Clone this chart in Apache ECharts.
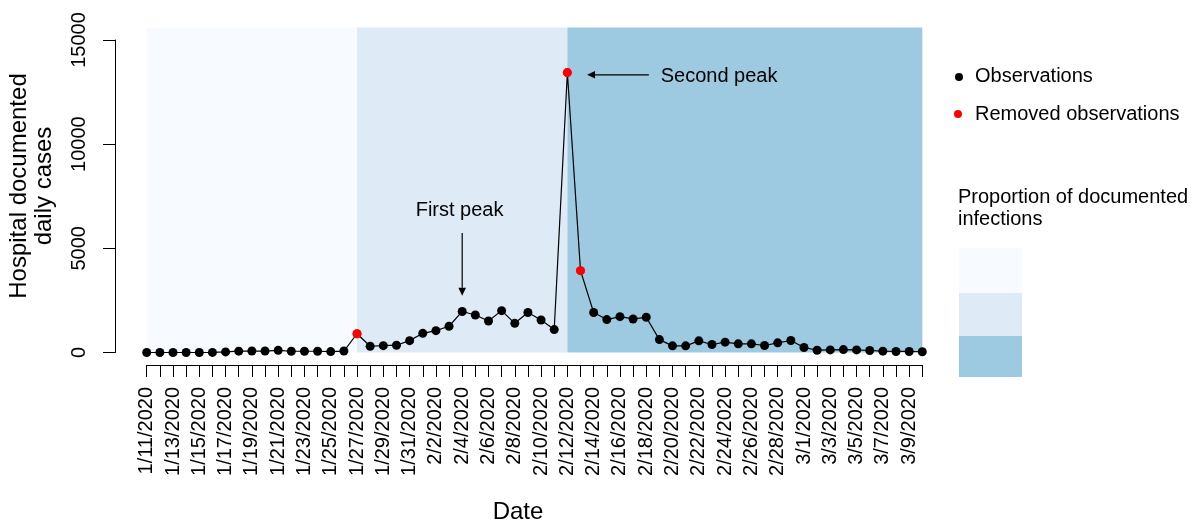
<!DOCTYPE html>
<html>
<head>
<meta charset="utf-8">
<title>Hospital documented daily cases</title>
<script src="https://cdn.jsdelivr.net/npm/echarts@6/dist/echarts.min.js"></script>
<style>
  html, body { margin: 0; padding: 0; background: #ffffff; }
  #chart { width: 1194px; height: 524px; }
</style>
</head>
<body>
<div id="chart"></div>
<script>
// Reporting dates, one per day
const dates = [
  '1/11/2020','1/12/2020','1/13/2020','1/14/2020','1/15/2020','1/16/2020','1/17/2020',
  '1/18/2020','1/19/2020','1/20/2020','1/21/2020','1/22/2020','1/23/2020','1/24/2020',
  '1/25/2020','1/26/2020','1/27/2020','1/28/2020','1/29/2020','1/30/2020','1/31/2020',
  '2/1/2020','2/2/2020','2/3/2020','2/4/2020','2/5/2020','2/6/2020','2/7/2020',
  '2/8/2020','2/9/2020','2/10/2020','2/11/2020','2/12/2020','2/13/2020','2/14/2020',
  '2/15/2020','2/16/2020','2/17/2020','2/18/2020','2/19/2020','2/20/2020','2/21/2020',
  '2/22/2020','2/23/2020','2/24/2020','2/25/2020','2/26/2020','2/27/2020','2/28/2020',
  '2/29/2020','3/1/2020','3/2/2020','3/3/2020','3/4/2020','3/5/2020','3/6/2020',
  '3/7/2020','3/8/2020','3/9/2020','3/10/2020'
];

// Hospital documented daily cases
const cases = [
  0, 0, 0, 0, 0, 5, 30,
  65, 70, 70, 105, 60, 60, 60,
  45, 70, 900, 300, 330, 350, 570,
  920, 1050, 1260, 1970, 1800, 1510, 2010,
  1400, 1920, 1560, 1100, 13436, 3930, 1920,
  1580, 1720, 1610, 1690, 620, 320, 320,
  560, 385, 495, 415, 415, 335, 465,
  575, 240, 110, 125, 140, 125, 95,
  65, 50, 50, 35
];

// Dates whose observations were removed
const removedDates = ['1/27/2020', '2/12/2020', '2/13/2020'];

// Periods with different proportion of documented infections
const periodStart = ['1/11/2020', '1/27/2020', '2/12/2020'];
const periodEnd   = ['1/27/2020', '2/12/2020', '3/10/2020'];
const periodColors = ['#f7fbff', '#deebf7', '#9ecae1'];
const periodTop = 15600;

// Y axis ticks
const yTicks = [0, 5000, 10000, 15000];

// Peak annotations: arrow from (x1,y1) to (x2,y2) in data units, label anchor
const annotationText = ['First peak', 'Second peak'];
const arrowFrom  = [[24, 5740], [38.2, 13330]];
const arrowTo    = [[24, 2720], [33.5, 13330]];
const labelAt    = [[23.8, 6840], [39.1, 13250]];
const labelAlign = ['center', 'left'];

const FONT = '"Liberation Sans", Arial, Helvetica, sans-serif';
const OBS_COLOR = '#000000';
const REMOVED_COLOR = '#ff0000';
const idx = d => dates.indexOf(d);

const obsData = cases.map((v, i) => {
  const removed = removedDates.indexOf(dates[i]) >= 0;
  return removed
    ? { value: [i, v], itemStyle: { color: REMOVED_COLOR } }
    : [i, v];
});
const removedData = removedDates.map(d => [idx(d), cases[idx(d)]]);
const bandData = periodStart.map((s, i) => [idx(s), idx(periodEnd[i]), i]);
const annData = annotationText.map((t, i) => [
  arrowFrom[i][0], arrowFrom[i][1], arrowTo[i][0], arrowTo[i][1],
  labelAt[i][0], labelAt[i][1], i
]);

// Plot geometry: data area, plus detached axes set off from it
const PLOT_L = 146.7, PLOT_T = 40, PLOT_W = 775.6, PLOT_H = 312.5;
const Y_AXIS_X = 115, X_AXIS_Y = 365;

const axisLineStyle = { color: '#000', width: 1 };
const hidden = { show: false };

const chart = echarts.init(document.getElementById('chart'), null, { renderer: 'canvas' });

const xRange = { type: 'value', min: 0, max: dates.length - 1, interval: 1 };
const yRange = {
  type: 'value',
  min: yTicks[0],
  max: yTicks[yTicks.length - 1],
  interval: yTicks[1] - yTicks[0]
};

const option = {
  animation: false,
  backgroundColor: '#ffffff',
  grid: [
    // 0: data area
    { left: PLOT_L, top: PLOT_T, width: PLOT_W, height: PLOT_H },
    // 1: y axis, left of the data area
    { left: Y_AXIS_X, top: PLOT_T, width: PLOT_L + PLOT_W - Y_AXIS_X, height: PLOT_H },
    // 2: x axis, below the data area
    { left: PLOT_L, top: PLOT_T, width: PLOT_W, height: X_AXIS_Y - PLOT_T }
  ],
  xAxis: [
    Object.assign({ gridIndex: 0, show: false }, xRange),
    Object.assign({ gridIndex: 1, show: false }, xRange),
    Object.assign({
      gridIndex: 2,
      axisLine: { show: true, lineStyle: axisLineStyle },
      axisTick: { show: true, length: 12, lineStyle: axisLineStyle },
      splitLine: hidden,
      axisLabel: {
        rotate: 90,
        margin: 22,
        color: '#000',
        fontFamily: FONT,
        fontSize: 20,
        showMinLabel: true,
        showMaxLabel: true,
        formatter: v => (Number.isInteger(v) && v % 2 === 0 ? dates[v] : '')
      }
    }, xRange)
  ],
  yAxis: [
    Object.assign({ gridIndex: 0, show: false }, yRange),
    Object.assign({
      gridIndex: 1,
      axisLine: { show: true, lineStyle: axisLineStyle },
      axisTick: { show: true, length: 12, lineStyle: axisLineStyle },
      splitLine: hidden,
      axisLabel: {
        rotate: 90,
        margin: 26,
        color: '#000',
        fontFamily: FONT,
        fontSize: 20,
        formatter: v => String(v)
      }
    }, yRange),
    Object.assign({ gridIndex: 2, show: false }, yRange)
  ],
  series: [
    {
      // Shaded periods behind the data
      type: 'custom',
      xAxisIndex: 0, yAxisIndex: 0,
      z: 0,
      clip: false,
      silent: true,
      data: bandData,
      renderItem: (params, api) => {
        const p0 = api.coord([api.value(0), 0]);
        const p1 = api.coord([api.value(1), periodTop]);
        return {
          type: 'rect',
          shape: { x: p0[0], y: p1[1], width: p1[0] - p0[0], height: p0[1] - p1[1] },
          style: { fill: periodColors[api.value(2)] }
        };
      }
    },
    {
      name: 'Observations',
      type: 'line',
      xAxisIndex: 0, yAxisIndex: 0,
      z: 2,
      data: obsData,
      symbol: 'circle',
      symbolSize: 9,
      showAllSymbol: true,
      clip: false,
      itemStyle: { color: OBS_COLOR },
      lineStyle: { color: OBS_COLOR, width: 1.2 }
    },
    {
      name: 'Removed observations',
      type: 'scatter',
      xAxisIndex: 0, yAxisIndex: 0,
      z: 3,
      data: removedData,
      symbol: 'circle',
      symbolSize: 9,
      clip: false,
      itemStyle: { color: REMOVED_COLOR }
    },
    {
      // Peak annotations
      type: 'custom',
      xAxisIndex: 0, yAxisIndex: 0,
      z: 4,
      clip: false,
      silent: true,
      data: annData,
      renderItem: (params, api) => {
        const a = api.coord([api.value(0), api.value(1)]);
        const b = api.coord([api.value(2), api.value(3)]);
        const t = api.coord([api.value(4), api.value(5)]);
        const i = api.value(6);
        const ang = Math.atan2(b[1] - a[1], b[0] - a[0]);
        const L = 8, W = 3.8;
        const bx = b[0] - L * Math.cos(ang), by = b[1] - L * Math.sin(ang);
        const px = -Math.sin(ang) * W, py = Math.cos(ang) * W;
        return {
          type: 'group',
          children: [
            {
              type: 'line',
              shape: { x1: a[0], y1: a[1], x2: bx, y2: by },
              style: { stroke: '#000', lineWidth: 1.2 }
            },
            {
              type: 'polygon',
              shape: { points: [[b[0], b[1]], [bx + px, by + py], [bx - px, by - py]] },
              style: { fill: '#000' }
            },
            {
              type: 'text',
              x: t[0], y: t[1],
              style: {
                text: annotationText[i],
                fill: '#000',
                font: '20px ' + FONT,
                textAlign: labelAlign[i],
                textVerticalAlign: 'middle'
              }
            }
          ]
        };
      }
    }
  ],
  graphic: [
    {
      type: 'text', x: 19, y: 186, rotation: Math.PI / 2,
      style: { text: 'Hospital documented', font: '24px ' + FONT, fill: '#000', textAlign: 'center', textVerticalAlign: 'middle' }
    },
    {
      type: 'text', x: 44, y: 186, rotation: Math.PI / 2,
      style: { text: 'daily cases', font: '24px ' + FONT, fill: '#000', textAlign: 'center', textVerticalAlign: 'middle' }
    },
    {
      type: 'text', x: 518, y: 512,
      style: { text: 'Date', font: '24px ' + FONT, fill: '#000', textAlign: 'center', textVerticalAlign: 'middle' }
    },
    // Point legend
    { type: 'circle', shape: { cx: 959, cy: 77, r: 4 }, style: { fill: OBS_COLOR } },
    {
      type: 'text', x: 975, y: 76,
      style: { text: 'Observations', font: '20px ' + FONT, fill: '#000', textVerticalAlign: 'middle' }
    },
    { type: 'circle', shape: { cx: 958, cy: 114, r: 4 }, style: { fill: REMOVED_COLOR } },
    {
      type: 'text', x: 975, y: 114,
      style: { text: 'Removed observations', font: '20px ' + FONT, fill: '#000', textVerticalAlign: 'middle' }
    },
    // Period legend
    {
      type: 'text', x: 958, y: 197,
      style: { text: 'Proportion of documented', font: '20px ' + FONT, fill: '#000', textVerticalAlign: 'middle' }
    },
    {
      type: 'text', x: 958, y: 219,
      style: { text: 'infections', font: '20px ' + FONT, fill: '#000', textVerticalAlign: 'middle' }
    },
    { type: 'rect', shape: { x: 959, y: 248, width: 63, height: 45 }, style: { fill: periodColors[0] } },
    { type: 'rect', shape: { x: 959, y: 293, width: 63, height: 43 }, style: { fill: periodColors[1] } },
    { type: 'rect', shape: { x: 959, y: 336, width: 63, height: 41 }, style: { fill: periodColors[2] } }
  ]
};

chart.setOption(option);
</script>
</body>
</html>
